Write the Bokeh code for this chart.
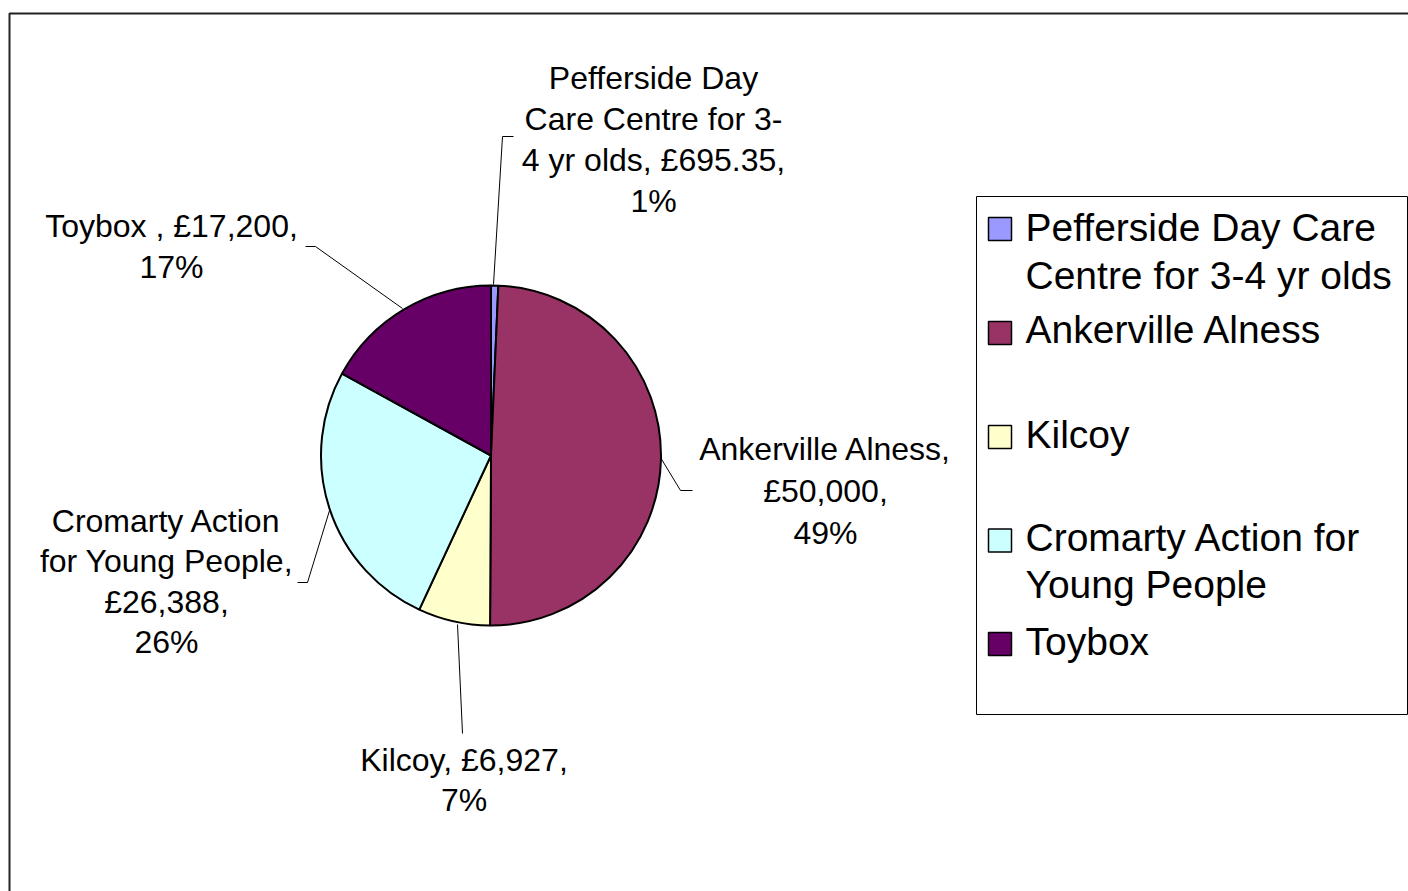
import math
from bokeh.plotting import figure
from bokeh.models import ColumnDataSource, Range1d
from bokeh.core.properties import value
from bokeh.embed import file_html
from bokeh.resources import INLINE

# ---------------- data ----------------
categories = ["Pefferside Day Care Centre for 3-4 yr olds", "Ankerville Alness",
              "Kilcoy", "Cromarty Action for Young People", "Toybox"]
amounts = [695.35, 50000, 6927, 26388, 17200]
colors = ["#9999FF", "#993366", "#FFFFCC", "#CCFFFF", "#660066"]
amount_labels = ["£695.35", "£50,000", "£6,927", "£26,388", "£17,200"]
label_names = ["Pefferside Day Care Centre for 3-4 yr olds", "Ankerville Alness",
               "Kilcoy", "Cromarty Action for Young People", "Toybox "]
legend_lines = [["Pefferside Day Care", "Centre for 3-4 yr olds"],
                ["Ankerville Alness"],
                ["Kilcoy"],
                ["Cromarty Action for", "Young People"],
                ["Toybox"]]

total = sum(amounts)
percents = [round(100 * a / total) for a in amounts]

# data-label wrapping (text of each label, split into lines as in the chart)
full_labels = [f"{n}, {a}, {p}%" for n, a, p in zip(label_names, amount_labels, percents)]
wrap_breaks = [["Pefferside Day ", "Care Centre for 3-", "4 yr olds, £695.35, ", ""],
               ["Ankerville Alness, ", "£50,000, ", ""],
               ["Kilcoy, £6,927, ", ""],
               ["Cromarty Action ", "for Young People, ", "£26,388, ", ""],
               ["Toybox , £17,200, ", ""]]


def wrap(text, parts):
    lines = []
    rest = text
    for part in parts[:-1]:
        lines.append(part.strip())
        rest = rest[len(part):]
    lines.append(rest.strip())
    return lines


label_lines = [wrap(t, b) for t, b in zip(full_labels, wrap_breaks)]

# ---------------- layout (picture pixel positions) ----------------
W, H = 1408, 891


def X(px):
    return px


def Y(py):
    return H - py


cx, cy, R = 490.5, 455, 170

label_anchor = [(653, [77, 118.5, 159.5, 200.5]),
                (825, [448, 490, 532]),
                (463.5, [759, 799]),
                (166, [520.5, 560.5, 601, 641.5]),
                (171, [225, 266.5])]

leaders = [[(493, 284), (502, 136), (513, 136)],
           [(660, 457), (680, 490), (692, 490)],
           [(457, 624), (462, 733)],
           [(329, 510), (307, 582), (297, 582)],
           [(402, 308), (315, 246), (305, 246)]]

p = figure(width=W, height=H, output_backend="svg", toolbar_location=None,
           x_range=Range1d(0, W), y_range=Range1d(0, H),
           min_border=0, outline_line_color=None, background_fill_color="white",
           border_fill_color="white")
p.axis.visible = False
p.grid.visible = False

# outer chart border (right/bottom edges fall outside the picture)
p.quad(left=[X(9)], right=[X(1440)], top=[Y(13)], bottom=[Y(930)],
       fill_color=None, line_color="#222222", line_width=2)

# ---------------- pie ----------------
starts, ends = [], []
cum = 0.0
for a in amounts:
    starts.append(math.pi / 2 - 2 * math.pi * cum / total)
    cum += a
    ends.append(math.pi / 2 - 2 * math.pi * cum / total)

src = ColumnDataSource(dict(cat=categories, amt=amounts, color=colors,
                            start=starts, end=ends))
p.wedge(x=X(cx), y=Y(cy), radius=R, start_angle="start", end_angle="end",
        direction="clock", fill_color="color", line_color="black",
        line_width=2, source=src)

# leader lines
p.multi_line(xs=[[X(x) for x, _ in l] for l in leaders],
             ys=[[Y(y) for _, y in l] for l in leaders],
             line_color="black", line_width=1)

# data labels
tx, ty, tt = [], [], []
for lines, (ax, ys) in zip(label_lines, label_anchor):
    for line, yy in zip(lines, ys):
        tx.append(X(ax))
        ty.append(Y(yy))
        tt.append(line)
p.text(x=tx, y=ty, text=tt, text_font=value("Liberation Sans"),
       text_font_size="32px", text_align="center", text_baseline="middle",
       text_color="black")

# ---------------- legend ----------------
p.quad(left=[X(976)], right=[X(1407)], top=[Y(196)], bottom=[Y(714)],
       fill_color="white", line_color="black", line_width=1)

sw_y = [228.5, 332.5, 436.5, 540, 643.5]
txt_y = [[227, 274.5], [329], [434], [536.5, 584], [641]]
p.rect(x=[X(999.5)] * len(categories), y=[Y(v) for v in sw_y], width=23, height=23,
       fill_color=colors, line_color="black", line_width=1.5)

lx, ly, lt = [], [], []
for lines, ys in zip(legend_lines, txt_y):
    for line, yy in zip(lines, ys):
        lx.append(X(1025))
        ly.append(Y(yy))
        lt.append(line)
p.text(x=lx, y=ly, text=lt, text_font=value("Liberation Sans"),
       text_font_size="39px", text_align="left", text_baseline="middle",
       text_color="black")

open("out.html", "w").write(file_html(p, INLINE))
